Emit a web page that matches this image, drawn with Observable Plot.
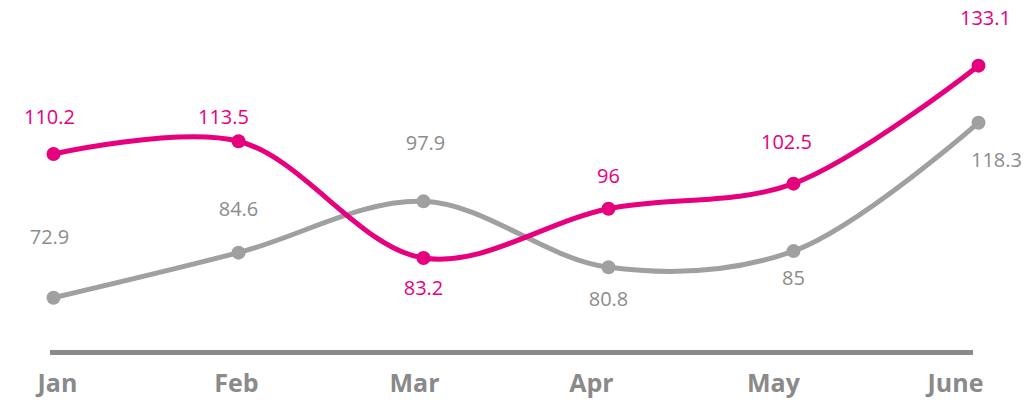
<!DOCTYPE html>
<html>
<head>
<meta charset="utf-8">
<script src="https://cdn.jsdelivr.net/npm/d3@7"></script>
<script src="https://cdn.jsdelivr.net/npm/@observablehq/plot@0.6"></script>
<style>
  html, body { margin: 0; padding: 0; background: #fff; }
</style>
</head>
<body>
<div id="chart"></div>
<script>
const months = ["Jan", "Feb", "Mar", "Apr", "May", "June"];
const pinkValues = [110.2, 113.5, 83.2, 96, 102.5, 133.1];
const grayValues = [72.9, 84.6, 97.9, 80.8, 85, 118.3];

// label offsets (pixels) relative to each point
const pinkLabelDx = [-4, -15, 0, 0, -7, 7];
const pinkLabelDy = [-36, -24, 31, -32, -41, -47];
const grayLabelDx = [-4, 0, 2, 0, 0, 18];
const grayLabelDy = [-60, -43, -58, 32, 27, 38];
const monthLabelDx = [4, -2, -9, -17, -20, -23];

const PINK = "#e6007e";
const GRAY = "#a0a0a0";
const GRAY_TEXT = "#8c8c8c";
const AXIS = "#8a8a8a";
const yMin = 58.7, yMax = 150;

const pink = months.map((m, i) => ({month: m, value: pinkValues[i]}));
const gray = months.map((m, i) => ({month: m, value: grayValues[i]}));

function labels(data, dxs, dys, color) {
  return data.map((d, i) => Plot.text([d], {
    x: "month", y: "value", text: d => String(d.value),
    dx: dxs[i], dy: dys[i], fill: color, fontSize: 20, fontWeight: 500
  }));
}

const chart = Plot.plot({
  width: 1032,
  height: 400,
  marginLeft: 51,
  marginRight: 52,
  marginTop: 0,
  marginBottom: 48,
  x: {type: "point", domain: months, padding: 0, axis: null},
  y: {domain: [yMin, yMax], axis: null},
  style: {fontFamily: "'Open Sans', sans-serif", background: "white", overflow: "visible"},
  marks: [
    Plot.ruleY([yMin], {stroke: AXIS, strokeWidth: 5, insetRight: 7, insetLeft: -1}),
    ...months.map((m, i) => Plot.text([m], {
      x: d => d, y: () => yMin, dy: 31, dx: monthLabelDx[i],
      text: d => d, fill: AXIS, fontSize: 25, fontWeight: "bold"
    })),
    Plot.line(gray, {x: "month", y: "value", stroke: GRAY, strokeWidth: 5, curve: "catmull-rom"}),
    Plot.dot(gray, {x: "month", y: "value", fill: GRAY, r: 7}),
    Plot.line(pink, {x: "month", y: "value", stroke: PINK, strokeWidth: 5, curve: "catmull-rom"}),
    Plot.dot(pink, {x: "month", y: "value", fill: PINK, r: 7}),
    ...labels(gray, grayLabelDx, grayLabelDy, GRAY_TEXT),
    ...labels(pink, pinkLabelDx, pinkLabelDy, PINK)
  ]
});
document.getElementById("chart").appendChild(chart);
</script>
</body>
</html>
